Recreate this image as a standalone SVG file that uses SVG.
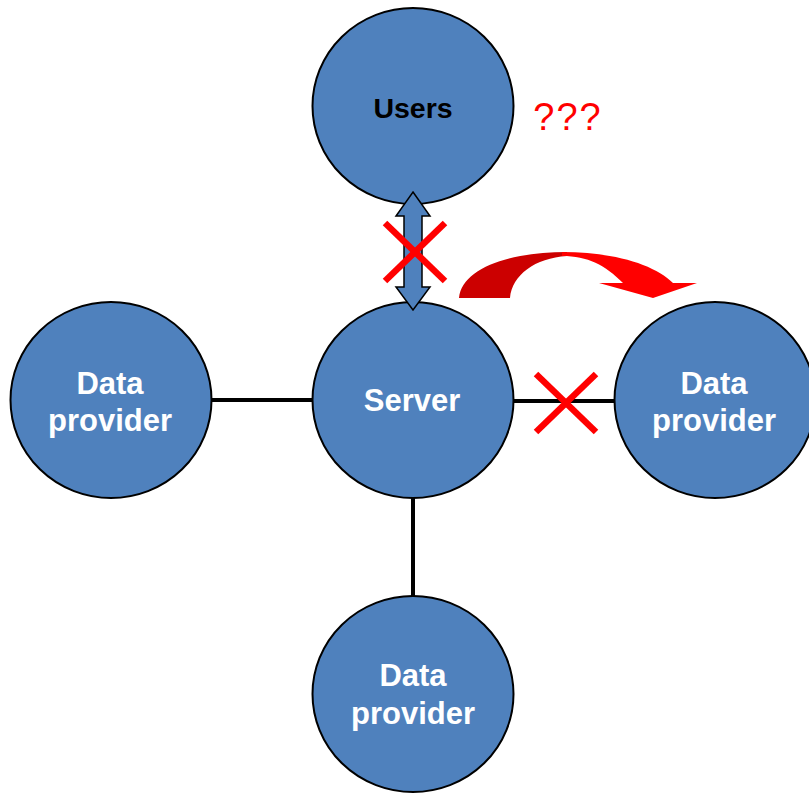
<svg xmlns="http://www.w3.org/2000/svg" width="809" height="793" viewBox="0 0 809 793">
<style>
.node ellipse{fill:#4F81BD;stroke:#000;stroke-width:2}
.lbl{font-family:"Liberation Sans",Arial,sans-serif;font-weight:bold;font-size:31px;text-anchor:middle;fill:#fff}
.conn line{stroke:#000;stroke-width:4}
.xm line{stroke:#FF0000;stroke-width:6.5}
</style>
<rect width="809" height="793" fill="#fff"/>
<g id="connectors" class="conn">
<line x1="211" y1="400" x2="313" y2="400"/>
<line x1="512" y1="401" x2="615" y2="401"/>
<line x1="413" y1="497" x2="413" y2="597"/>
</g>
<g id="users" class="node">
<ellipse cx="413" cy="106" rx="100.5" ry="98"/>
<text class="lbl" x="413" y="118" style="fill:#000;font-size:28.5px">Users</text>
</g>
<g id="server" class="node">
<ellipse cx="413" cy="400" rx="100.5" ry="98"/>
<text class="lbl" x="412" y="411">Server</text>
</g>
<g id="provider-left" class="node">
<ellipse cx="111" cy="400" rx="100.5" ry="98"/>
<text class="lbl" x="110" y="394">Data</text>
<text class="lbl" x="110" y="431">provider</text>
</g>
<g id="provider-right" class="node">
<ellipse cx="715" cy="400" rx="100.5" ry="98"/>
<text class="lbl" x="714" y="394">Data</text>
<text class="lbl" x="714" y="431">provider</text>
</g>
<g id="provider-bottom" class="node">
<ellipse cx="413" cy="694" rx="100.5" ry="98"/>
<text class="lbl" x="413" y="686">Data</text>
<text class="lbl" x="413" y="724">provider</text>
</g>
<g id="double-arrow">
<path d="M413,192 L430,216 L422,216 L422,287 L430,287 L413,310 L396,287 L404,287 L404,216 L396,216 Z" fill="#4F81BD" stroke="#000" stroke-width="1.5" stroke-linejoin="miter"/>
</g>
<g id="crosses" class="xm">
<line x1="385" y1="223" x2="445" y2="281"/>
<line x1="445" y1="223" x2="385" y2="281"/>
<line x1="536" y1="374" x2="596" y2="432"/>
<line x1="596" y1="374" x2="536" y2="432"/>
</g>
<g id="curved-arrow">
<path d="M459,298 C462,268 510,252 567,252 L567,256 C535,258 512,275 510,298 Z" fill="#CC0000"/>
<path d="M562,252 C615,252 655,265 673,283 L697,283 L653,298 L599,283 L623,283 C605,265 588,256 562,256 Z" fill="#FF0000"/>
</g>
<text x="568" y="130" font-family="'Liberation Sans',Arial,sans-serif" font-size="38" fill="#FF0000" text-anchor="middle" letter-spacing="2">???</text>
</svg>
